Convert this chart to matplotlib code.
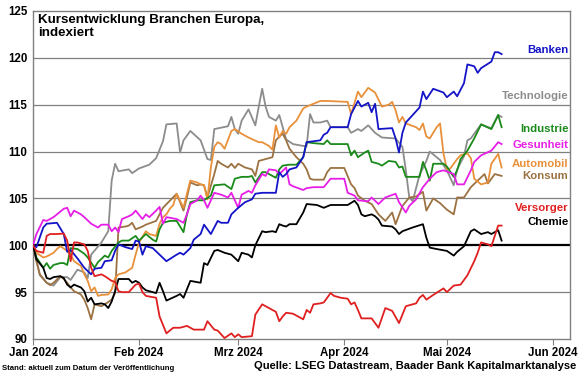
import numpy as np
import pandas as pd
import matplotlib
matplotlib.use('Agg')
import matplotlib.pyplot as plt

plt.rcParams['font.family'] = ['Liberation Sans', 'DejaVu Sans']

# days since 01.01.2024 and index values (start = 100)
banken_d = [0,1,3,4,7,9,10,11,13,15,17,18,20,21,23,24,25,27,29,30,31,32,33,35,37,39,42,43,44,46,47,49,50,52,54,55,57,58,60,62,64,65,67,71,72,73,74,75,77,79,80,84,85,86,87,92,93,95,96,98,99,100,101,105,106,107,108,109,113,114,115,117,120,121,123,124,126,127,129,130,131,134,135,136,137]
banken = [100,99.8,101.9,102.3,102.4,101.2,99.3,99.5,98.6,97.6,96.9,97.5,97.6,98.3,98.4,99.4,100.1,99.8,99.6,100.5,100.4,99.0,99.9,99.7,99.0,98.3,99.0,99.2,99.0,99.7,100.6,101.2,102.2,101.2,102.6,102.4,102.4,103.3,104.0,104.6,104.9,105.5,105.6,105.6,107.8,107.3,107.6,108.1,108.3,109.4,111.0,111.2,111.8,112.0,112.6,112.6,114.0,115.4,114.8,115.2,114.2,115.1,112.4,112.5,111.4,109.9,112.0,113.1,114.7,116.4,115.6,116.7,116.3,115.8,116.4,115.9,117.3,119.3,119.1,118.4,118.9,119.6,120.6,120.6,120.4]

tech_d = [0,2,4,6,8,10,11,13,15,16,17,20,22,23,24,25,28,29,31,34,36,38,39,42,43,44,46,49,51,52,53,57,58,59,60,61,63,65,66,67,68,69,71,72,74,76,79,80,81,82,84,86,87,92,93,95,96,98,100,102,106,108,109,110,111,113,115,116,119,121,123,124,126,127,128,131,133,134,136,137]
tech = [100,96.8,96.0,95.7,96.6,96.6,96.3,97.4,97.1,96.5,99.0,100.3,101.5,106.9,108.7,107.9,108.1,107.7,108.2,108.6,109.3,111.1,112.9,113.0,109.9,111.2,112.2,111.2,109.2,109.1,112.4,112.7,113.7,112.4,111.9,113.3,114.5,112.8,114.8,116.7,114.8,113.7,113.3,113.9,111.3,110.8,110.6,110.6,114.0,113.1,113.1,113.3,112.6,112.6,112.0,112.4,112.2,112.8,112.0,111.5,111.4,110.5,108.0,105.1,104.7,107.5,109.0,110.0,109.1,108.0,106.4,108.1,109.5,111.2,111.4,112.9,112.6,112.5,113.9,113.7]

ind_d = [0,1,3,4,5,6,8,9,10,11,13,15,16,18,19,21,22,23,25,26,28,30,31,33,35,36,37,38,40,42,44,45,46,48,50,52,53,56,58,59,61,63,64,65,67,68,70,71,72,73,75,77,79,80,82,85,86,87,92,93,94,95,97,98,99,101,102,104,106,107,108,109,113,114,115,116,117,120,121,123,124,125,127,129,131,134,136,137]
ind = [100,98.7,97.6,98.1,97.5,97.9,98.1,98.1,97.9,99.7,99.6,99.1,98.7,97.6,98.2,98.9,98.7,99.4,100.3,100.5,100.5,101.0,100.5,101.2,100.6,100.4,101.7,102.4,102.6,102.6,101.4,103.3,104.6,104.8,104.8,105.3,106.4,106.5,106.0,107.1,107.3,107.3,107.4,106.7,107.8,107.8,107.4,107.2,108.1,108.5,108.6,108.6,109.4,111.0,110.9,110.8,111.2,110.8,110.8,109.6,110.1,109.4,109.9,110.1,108.9,108.7,108.5,109.0,108.9,108.3,108.4,107.3,107.3,108.9,108.0,106.9,108.7,108.7,108.4,107.3,108.0,109.2,110.1,111.4,112.9,112.4,113.9,112.6]

ges_d = [0,1,3,4,6,7,9,10,11,12,14,15,17,19,20,22,23,24,25,26,28,29,30,32,33,34,36,37,38,39,42,44,45,46,48,49,50,51,53,55,57,58,60,61,63,64,65,67,68,69,71,72,74,75,76,79,80,82,85,87,91,92,94,95,98,99,101,103,106,107,109,110,112,114,116,118,120,123,124,126,128,129,131,134,136,137]
ges = [100,101.2,102.7,102.6,103.0,103.3,103.9,104.0,103.1,103.7,103.3,103.0,102.3,101.9,102.2,102.2,101.5,101.9,101.4,102.8,103.1,103.3,103.7,102.8,103.3,103.0,103.7,104.1,102.3,103.0,102.8,102.4,103.3,104.4,104.8,105.3,104.8,104.0,105.6,105.4,105.1,105.6,104.0,105.4,105.8,105.6,106.4,107.6,107.4,108.1,108.0,107.6,108.3,106.5,106.3,105.9,106.1,106.2,106.2,107.1,107.1,105.6,105.3,104.8,104.7,105.1,104.4,105.1,105.5,104.6,103.5,104.2,104.9,106.2,107.1,107.8,108.0,107.6,106.5,106.5,108.0,108.9,109.6,110.1,111.0,110.8]

auto_d = [0,1,3,4,6,7,8,10,11,12,14,15,16,17,18,19,20,22,23,24,25,27,29,30,31,33,34,36,37,38,39,40,41,42,44,45,46,48,49,50,51,52,53,54,55,56,58,59,61,63,66,67,69,70,71,72,73,74,75,77,79,80,82,84,86,92,93,95,96,98,100,102,104,105,106,107,108,109,112,113,114,115,116,118,119,120,121,122,123,124,125,127,128,129,131,133,134,136,137]
auto = [100,99.2,98.7,98.8,99.2,99.6,99.9,99.4,99.0,98.3,97.8,96.9,96.2,95.1,95.5,94.6,94.7,94.75,95.3,96.5,96.9,97.1,97.6,99.0,100.3,101.5,101.2,101.0,102.3,103.0,103.3,103.9,104.3,105.5,104.0,105.5,106.9,106.7,106.5,106.4,104.9,108.3,110.5,111.0,110.8,110.3,112.2,112.4,111.9,111.5,111.0,111.0,110.6,110.2,112.8,111.5,112.2,111.9,112.6,113.3,114.6,114.8,115.1,115.4,115.4,115.3,114.0,116.4,115.8,116.8,116.3,114.8,115.0,115.3,114.4,113.1,113.7,113.0,112.6,112.3,113.0,111.6,111.4,112.6,113.0,109.8,108.1,108.2,108.7,109.2,109.6,109.8,109.3,107.1,106.5,106.7,108.7,109.75,108.3]

kons_d = [0,1,2,4,5,6,8,9,10,11,12,14,15,16,17,18,20,21,23,24,25,27,28,29,30,32,33,36,38,40,42,44,45,46,48,49,50,51,53,54,55,57,58,59,60,62,64,65,66,68,69,70,71,72,73,74,75,77,79,80,81,82,85,86,87,91,93,94,95,97,99,101,103,105,106,108,110,112,114,115,117,119,121,123,124,126,128,130,132,133,135,137]
kons = [100,98.3,96.9,96.0,95.75,96.0,96.7,96.4,96.0,95.5,95.1,94.75,94.2,93.3,92.1,93.7,93.5,93.7,94.2,94.9,101.9,102.0,102.1,102.4,101.7,102.0,102.2,102.6,104.0,104.75,105.5,103.7,105.1,106.7,106.4,106.5,106.4,105.1,107.6,109.0,108.7,108.3,108.7,108.25,108.7,108.3,108.1,107.4,109.0,109.2,109.3,109.4,111.2,111.6,111.9,111.2,110.3,109.4,108.7,108.1,107.1,107.0,107.0,107.8,108.25,108.25,106.5,106.1,105.3,104.75,104.4,103.3,102.6,103.5,102.25,104.2,105.1,105.2,105.7,103.7,105.0,104.5,103.8,103.3,105.1,105.1,106.2,106.9,107.6,106.6,107.6,107.4]

vers_d = [0,1,3,4,5,7,9,10,11,12,13,15,16,17,18,20,21,23,24,25,26,28,30,31,32,33,36,37,39,41,43,45,47,50,51,53,54,56,58,59,60,61,64,65,67,68,69,71,72,73,74,76,79,80,81,82,84,85,87,88,90,92,93,94,95,96,99,101,103,105,107,109,112,113,114,115,117,120,121,123,125,127,129,130,131,133,134,135,136,137]
vers = [100,99.4,99.2,101.0,101.2,101.2,101.25,100.5,98.3,100.3,100.3,100.1,99.4,97.6,96.7,96.9,96.7,96.2,96.1,95.1,95.0,95.0,95.8,95.9,95.0,94.6,94.4,92.4,90.6,91.2,91.2,91.4,91.0,91.0,91.9,91.0,90.9,90.1,90.6,90.2,90.5,90.2,90.3,92.6,93.7,93.5,93.3,92.9,91.9,92.4,92.8,92.7,92.1,93.1,92.8,93.7,93.8,93.9,94.9,94.6,94.4,94.3,93.7,93.9,93.1,92.2,92.2,91.2,93.3,93.0,91.7,93.5,93.8,94.4,94.7,94.2,94.7,95.4,95.0,95.7,95.8,96.8,98.3,99.2,100.3,100.1,99.9,101.0,102.1,102.1]

chem_d = [0,1,3,4,5,6,8,9,10,11,12,14,15,16,17,18,20,21,22,23,24,25,27,28,29,30,31,32,33,35,36,37,38,39,42,43,44,45,46,49,50,51,53,54,56,58,60,61,63,64,65,67,68,70,71,72,73,74,75,77,79,80,83,85,87,92,94,95,96,97,99,100,101,102,105,106,107,108,111,114,115,116,118,121,123,124,126,128,129,131,133,134,136,137]
chem = [100,98.5,97.6,96.5,96.4,96.6,96.7,96.5,95.8,95.5,95.8,95.5,95.1,94.0,94.4,93.7,93.8,93.7,93.3,94.0,95.1,96.4,96.4,96.4,96.0,96.2,96.0,95.5,95.2,95.0,94.9,96.0,95.1,94.1,94.6,94.8,94.4,95.3,96.2,96.0,98.1,97.9,99.4,99.5,99.2,99.0,98.3,99.2,99.0,98.7,100.0,101.5,101.4,101.5,101.4,102.25,102.1,102.0,102.25,102.25,103.5,104.4,104.3,104.0,104.3,104.3,104.75,104.3,103.3,103.1,103.3,103.1,102.75,102.1,102.0,101.7,101.2,101.5,101.9,102.25,100.8,99.75,99.6,99.4,98.9,99.3,99.9,101.5,101.7,101.2,101.4,101.2,101.6,100.5]

names = ['Banken','Technologie','Industrie','Gesunheit','Automobil','Konsum','Versorger','Chemie']
colours = ['#1414c8','#8c8c8c','#1a8a1a','#e61ee6','#e8913a','#9c7242','#e02020','#000000']
label_y = [120.8,115.9,112.4,110.7,108.7,107.4,104.0,102.5]

month_ticks = ['2024-01-01','2024-02-01','2024-03-01','2024-04-01','2024-05-01','2024-06-01']
month_labels = ['Jan 2024','Feb 2024','Mrz 2024','Apr 2024','Mai 2024','Jun 2024']

start = pd.Timestamp('2024-01-01')
def to_dates(d):
    return start + pd.to_timedelta(np.array(d), unit='D')

series = [(banken_d,banken),(tech_d,tech),(ind_d,ind),(ges_d,ges),(auto_d,auto),(kons_d,kons),(vers_d,vers),(chem_d,chem)]

fig = plt.figure(figsize=(5.8,3.74), dpi=100)
ax = fig.add_axes([0.0569,0.0936,0.9259,0.877])

for y in [95,105,110,115,120]:
    ax.axhline(y, color='#808080', lw=0.9, zorder=1)
ax.axhline(100, color='black', lw=1.6, zorder=2)

# draw order: grey behind, then the rest
order = [1,5,4,2,3,0,7,6]
for i in order:
    d, v = series[i]
    ax.plot(to_dates(d), v, color=colours[i], lw=1.3, zorder=3)

for i in range(len(names)):
    ax.text(0.997, label_y[i], names[i], color=colours[i], fontsize=8.2, fontweight='bold',
            ha='right', va='center', transform=ax.get_yaxis_transform())

ax.text(0.009, 124.7, 'Kursentwicklung Branchen Europa,\nindexiert', fontsize=9.6, fontweight='bold',
        ha='left', va='top', transform=ax.get_yaxis_transform(), linespacing=1.15)

ax.set_ylim(90,125)
ax.set_yticks([90,95,100,105,110,115,120,125])
ax.set_xlim(start, start + pd.Timedelta(days=157))
ax.set_xticks(pd.to_datetime(month_ticks))
ax.set_xticklabels(month_labels)
for lab in ax.get_xticklabels() + ax.get_yticklabels():
    lab.set_fontweight('bold')
    lab.set_fontsize(8.3)
ax.tick_params(axis='y', length=0, pad=4)
ax.tick_params(axis='x', length=4, color='#808080', pad=2)
for s in ax.spines.values():
    s.set_color('#808080')
    s.set_linewidth(1.0)

fig.text(0.004, 0.016, 'Stand: aktuell zum Datum der Veröffentlichung', fontsize=5.6, fontweight='bold',
         ha='left', va='center')
fig.text(0.993, 0.021, 'Quelle: LSEG Datastream, Baader Bank Kapitalmarktanalyse', fontsize=8, fontweight='bold',
         ha='right', va='center')

fig.savefig('out.png', dpi=100)
